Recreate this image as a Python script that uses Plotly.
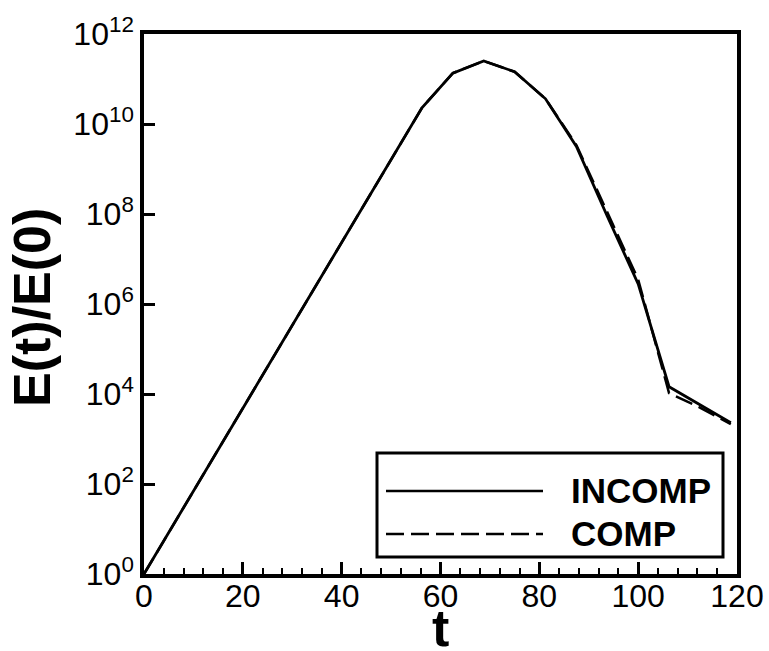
import plotly.graph_objects as go

# ---- data ----
t = [0, 6.25, 12.5, 18.75, 25, 31.25, 37.5, 43.75, 50, 56.25,
     62.5, 68.75, 75, 81.25, 87.5, 93.75, 100, 106.25, 112.5, 118.75]
e_incomp = [1.0, 1.41e1, 2.0e2, 2.75e3, 3.9e4, 5.5e5, 7.76e6, 1.1e8, 1.58e9, 2.29e10,
            1.35e11, 2.51e11, 1.45e11, 3.63e10, 3.16e9, 8.9e7, 2.8e6, 1.45e4, 5.75e3, 2.3e3]
e_comp = [1.0, 1.41e1, 2.0e2, 2.75e3, 3.9e4, 5.5e5, 7.76e6, 1.1e8, 1.58e9, 2.29e10,
          1.35e11, 2.51e11, 1.45e11, 3.63e10, 3.4e9, 1.12e8, 3.5e6, 1.05e4, 5.0e3, 2.15e3]
series_names = ["INCOMP", "COMP"]
x_ticks = [0, 20, 40, 60, 80, 100, 120]
y_tickvals = [1e0, 1e2, 1e4, 1e6, 1e8, 1e10, 1e12]
y_ticktext = ["10<sup>0</sup>", "10<sup>2</sup>", "10<sup>4</sup>", "10<sup>6</sup>",
              "10<sup>8</sup>", "10<sup>10</sup>", "10<sup>12</sup>"]

FONT = "Arial, Liberation Sans, sans-serif"

fig = go.Figure()
fig.add_trace(go.Scatter(x=t, y=e_incomp, mode="lines", name=series_names[0],
                         line=dict(color="black", width=2.8)))
fig.add_trace(go.Scatter(x=t, y=e_comp, mode="lines", name=series_names[1],
                         line=dict(color="black", width=2.5, dash="18px,7px")))

L, R, T, B = 144, 32, 34, 77
W, H = 769, 651
pw, ph = W - L - R, H - T - B

def px_x(p):
    return (p - L) / pw

def px_y(p):
    return (H - B - p) / ph

fig.update_layout(
    width=W, height=H,
    margin=dict(l=L, r=R, t=T, b=B, autoexpand=False),
    plot_bgcolor="white", paper_bgcolor="white",
    showlegend=False,
    font=dict(family=FONT, color="black", size=32),
)
fig.update_xaxes(
    range=[0, 120], tickvals=x_ticks, ticks="inside", ticklen=12, tickwidth=2.5,
    tickcolor="black", showline=True, linecolor="black", linewidth=3.5, mirror=True,
    showgrid=False, zeroline=False, tickfont=dict(size=32, family=FONT), automargin=False,
    ticklabelstandoff=-9,
    minor=dict(dtick=4, ticks="inside", ticklen=6, tickwidth=1.5, tickcolor="black", showgrid=False),
)
fig.update_yaxes(
    type="log", range=[0, 12], tickvals=y_tickvals, ticktext=y_ticktext,
    ticks="inside", ticklen=11, tickwidth=2.5, tickcolor="black", automargin=False,
    showline=True, linecolor="black", linewidth=3.5, mirror=True,
    showgrid=False, zeroline=False, tickfont=dict(size=32, family=FONT),
)

# axis titles
fig.add_annotation(text="<b>t</b>", x=0.5, xref="paper", y=px_y(628), yref="paper",
                   showarrow=False, font=dict(size=52, family=FONT), xanchor="center", yanchor="middle")
fig.add_annotation(text="<b>E(t)/E(0)</b>", x=px_x(32), xref="paper", y=px_y(308), yref="paper",
                   showarrow=False, textangle=-90, font=dict(size=52, family=FONT),
                   xanchor="center", yanchor="middle")

# legend box drawn manually
fig.add_shape(type="rect", xref="paper", yref="paper",
              x0=px_x(377), x1=px_x(723), y0=px_y(557), y1=px_y(453),
              line=dict(color="black", width=3), fillcolor="white", layer="above")
fig.add_shape(type="line", xref="paper", yref="paper",
              x0=px_x(386), x1=px_x(543), y0=px_y(491), y1=px_y(491),
              line=dict(color="black", width=2.5), layer="above")
fig.add_shape(type="line", xref="paper", yref="paper",
              x0=px_x(386), x1=px_x(543), y0=px_y(534), y1=px_y(534),
              line=dict(color="black", width=2.5, dash="18px,7px"), layer="above")
fig.add_annotation(text="<b>" + series_names[0] + "</b>", x=px_x(569), xref="paper",
                   y=px_y(490), yref="paper", showarrow=False, xanchor="left", yanchor="middle",
                   font=dict(size=35, family=FONT))
fig.add_annotation(text="<b>" + series_names[1] + "</b>", x=px_x(569), xref="paper",
                   y=px_y(533), yref="paper", showarrow=False, xanchor="left", yanchor="middle",
                   font=dict(size=35, family=FONT))

fig.write_html("out.html", config={"displayModeBar": False},
               post_script="document.body.style.margin='0';")
